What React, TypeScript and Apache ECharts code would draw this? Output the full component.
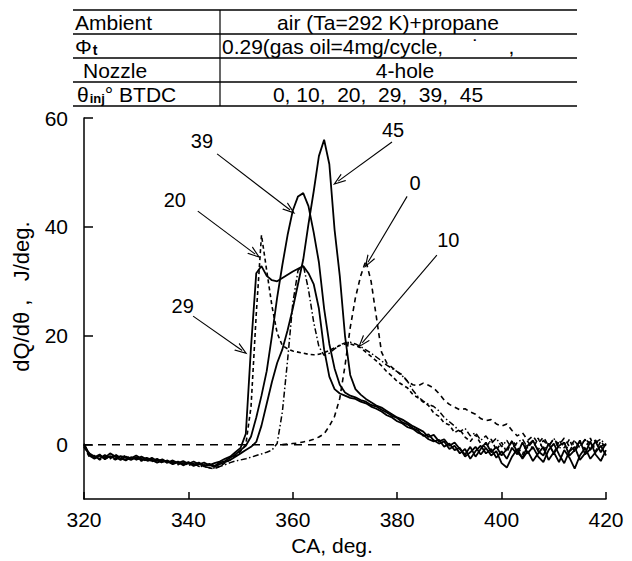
import React, { useEffect, useRef } from "react";
import * as echarts from "echarts";

// ---------- data (CA in deg., dQ/dθ in J/deg.) ----------
const CA_MIN = 320;
const CA_MAX = 420;
const X_TICKS = [320, 340, 360, 380, 400, 420];
const Y_TICKS = [0, 20, 40, 60];

// Injection timings (deg BTDC) – curve labels
const INJ_LABELS = ["0", "10", "20", "29", "39", "45"];

// each curve sampled every 1 deg starting at its start CA
const Q29_START = 320;
const Q29 = [
  0.0, -2.0, -2.6, -2.0, -2.4, -1.6, -2.2, -2.8, -2.2, -2.5,
  -2.0, -2.6, -2.9, -2.4, -3.0, -2.7, -3.3, -2.9, -3.4, -3.0,
  -3.5, -3.1, -3.6, -3.3, -3.8, -3.4, -3.1, -2.6, -2.2, -1.4,
  -0.6, 2.0, 18.0, 31.5, 32.8, 31.0, 30.2, 30.0, 30.6, 31.2,
  31.8, 32.3, 32.8, 31.5, 29.5, 25.0, 17.5, 12.5, 10.2, 9.4,
  9.0, 8.6, 8.4, 7.9, 7.6, 7.0, 6.6, 6.1, 5.4, 5.0,
  4.3, 3.9, 3.2, 2.9, 2.2, 1.8, 1.0, 0.6, 0.9, -0.4,
  0.2, -1.0, -0.6, -2.2, -1.4, -0.4, -1.8, -0.6, -2.0, -1.2,
  -3.4, -4.2, -2.2, -0.8, -2.6, -1.2, -3.0, -1.6, -0.4, -2.8,
  -1.4, -3.2, -1.0, -2.4, -4.4, -2.0, -0.6, -2.6, -1.4, -0.2,
  -2.0,
];

const Q39_START = 320;
const Q39 = [
  -0.3, -1.6, -2.2, -2.6, -1.9, -2.4, -2.0, -2.5, -2.9, -2.3,
  -2.7, -2.2, -2.7, -3.0, -2.6, -3.2, -2.9, -3.5, -3.1, -3.6,
  -3.2, -3.7, -3.3, -3.9, -3.5, -3.9, -3.3, -3.0, -2.4, -1.8,
  -1.0, -0.2, 1.5, 5.0, 9.0, 13.5, 20.0, 27.0, 33.0, 38.5,
  43.0, 45.6, 46.2, 43.8, 39.0, 33.5, 25.0, 18.5, 14.0, 11.0,
  9.6, 9.0, 8.7, 8.2, 7.9, 7.3, 7.0, 6.4, 5.9, 5.3,
  4.9, 4.1, 3.7, 3.0, 2.6, 1.6, 1.9, 0.8, 0.2, 0.6,
  -0.8, -0.2, -1.6, -0.8, -2.6, -1.2, -0.2, -1.6, -0.8, -2.4,
  -1.2, -2.6, -0.6, -1.8, 0.4, -1.6, -0.4, -2.2, -3.2, -1.0,
  0.2, -1.8, -3.4, -1.2, -0.4, -2.8, -1.6, 0.6, -1.8, -3.0,
  -1.0,
];

const Q45_START = 320;
const Q45 = [
  0.2, -1.8, -2.3, -1.8, -2.7, -2.1, -2.6, -2.1, -2.4, -2.8,
  -2.3, -2.8, -2.4, -2.8, -3.3, -2.9, -3.1, -3.6, -3.2, -3.8,
  -3.3, -3.9, -3.5, -4.0, -3.7, -4.1, -3.6, -3.2, -2.8, -2.2,
  -1.6, -1.0, -0.4, 0.5, 3.5, 7.5, 11.5, 15.0, 17.5, 21.0,
  25.0, 29.5, 34.0, 40.5, 46.5, 53.0, 56.0, 51.5, 39.5, 31.0,
  20.0, 12.8, 10.2, 9.2, 8.4, 7.8, 7.2, 6.8, 6.2, 5.6,
  5.0, 4.6, 4.0, 3.4, 2.9, 2.4, 1.4, 1.8, 0.6, 1.0,
  -0.2, 0.4, -0.8, -1.8, -0.4, -2.2, -0.8, 0.4, -1.4, -0.4,
  -2.0, -0.8, 0.6, -1.4, -2.4, -0.2, 0.8, -1.2, -2.0, 0.2,
  -1.6, -0.2, 0.4, -2.0, -1.0, 0.8, -1.8, -0.8, 0.6, -1.4,
  0.2,
];

const Q20_START = 320;
const Q20 = [
  -0.4, -2.2, -2.0, -2.8, -2.2, -2.6, -1.8, -2.4, -2.0, -2.7,
  -2.4, -3.0, -2.5, -3.1, -2.8, -3.4, -3.0, -3.3, -3.7, -3.2,
  -3.8, -3.4, -4.0, -3.7, -4.3, -4.4, -4.0, -3.4, -2.8, -2.0,
  -1.2, 0.0, 7.0, 24.0, 38.5, 32.0, 25.5, 20.5, 18.2, 17.6,
  17.2, 17.0, 16.8, 16.6, 16.5, 16.6, 16.9, 17.3, 17.8, 18.2,
  18.5, 18.5, 18.2, 17.8, 17.0, 16.2, 15.4, 14.5, 13.4, 12.6,
  11.6, 11.0, 10.4, 9.2, 8.6, 7.8, 7.2, 5.8, 5.2, 4.0,
  3.6, 2.2, 2.8, 1.4, 0.6, 1.8, 0.2, -0.6, 1.0, -1.0,
  0.4, -1.4, 0.8, -0.4, -1.8, 0.6, -0.8, 1.2, -1.0, 0.2,
  -1.6, 0.8, -0.6, 1.0, -1.4, 0.4, -0.8, 1.2, -1.2, 0.6,
  -0.6,
];

const Q10_START = 320;
const Q10 = [
  0.0, -1.6, -2.4, -2.1, -2.6, -2.3, -2.8, -2.3, -2.7, -2.3,
  -2.8, -2.5, -3.1, -2.7, -3.2, -2.8, -3.4, -3.1, -3.6, -3.3,
  -3.8, -3.5, -3.9, -4.1, -4.2, -4.3, -4.0, -3.7, -3.3, -3.0,
  -2.8, -2.6, -2.3, -2.0, -1.7, -1.4, -1.0, 0.2, 6.0, 15.5,
  26.0, 32.0, 33.0, 28.5, 22.5, 18.0, 16.4, 16.8, 17.6, 18.3,
  18.7, 18.8, 18.5, 18.0, 17.4, 16.8, 16.1, 15.4, 14.6, 14.0,
  13.4, 12.6, 11.6, 10.0, 8.8, 8.0, 7.4, 7.0, 6.2, 5.0,
  4.2, 3.4, 2.4, 3.0, 1.6, 2.2, 0.8, 1.6, 0.2, 1.2,
  -0.4, 0.8, -0.8, 0.4, 1.0, -0.6, 0.6, -1.0, 0.8, -0.4,
  1.2, -0.8, 0.4, -1.2, 0.6, -0.4, 1.0, -1.0, 0.4, 1.0,
  -0.2,
];

const Q0_START = 358;
const Q0 = [
  0.0, 0.1,
  0.2, 0.3, 0.5, 0.7, 1.0, 1.4, 2.0, 3.4, 5.2, 8.5,
  14.5, 21.5, 27.0, 31.0, 33.8, 30.0, 23.5, 17.0, 15.0, 14.2,
  13.4, 12.8, 11.6, 11.0, 10.8, 11.3, 10.9, 10.4, 9.4, 8.2,
  7.4, 6.9, 6.4, 6.6, 6.0, 5.6, 4.8, 4.4, 4.6, 3.8,
  3.4, 3.8, 2.6, 1.6, 2.2, 0.8, 1.6, 0.2, 1.4, -0.2,
  1.0, 0.0, 1.2, -0.4, 0.8, -0.6, 1.0, 0.2, 0.8, -0.4,
  0.4,
];

// zero reference line
const ZERO_LINE_CA = [320, 381];
const ZERO_LINE_VAL = [0, 0];

// annotation arrows (data coords): label position, arrow start, arrow tip
const ANNOT_TEXT = ["39", "20", "29", "45", "0", "10"];
const ANNOT_LABEL_POS = [
  [342.6, 55.8], [337.4, 44.9], [338.9, 25.4], [379.2, 57.8], [383.4, 48.0], [389.8, 37.5],
];
const ANNOT_FROM = [
  [345.5, 53.4], [341.8, 42.9], [340.9, 23.6], [379.0, 55.6], [381.9, 45.6], [387.6, 34.8],
];
const ANNOT_TO = [
  [359.5, 43.1], [352.8, 35.0], [350.3, 17.3], [368.7, 48.4], [374.4, 33.5], [373.3, 18.7],
];

// header table
const TABLE_RIGHT = [
  "air (Ta=292 K)+propane",
  "0.29(gas oil=4mg/cycle,     ˙     ,",
  "4-hole",
  "0, 10,  20,  29,  39,  45",
];

const FONT = "'Liberation Sans', Arial, Helvetica, sans-serif";

export default function App() {
  const ref = useRef<HTMLDivElement>(null);

  useEffect(() => {
    if (!ref.current) return;
    const chart = echarts.init(ref.current, null, { renderer: "svg" });

    const toData = (start: number, vals: number[]) => vals.map((v, i) => [start + i, v]);

    const curves = [
      { name: INJ_LABELS[0], start: Q0_START, values: Q0, type: [5, 4] as any, width: 1.6 },
      { name: INJ_LABELS[1], start: Q10_START, values: Q10, type: [6, 2.5, 1.5, 2.5] as any, width: 1.5 },
      { name: INJ_LABELS[2], start: Q20_START, values: Q20, type: [4, 3] as any, width: 1.6 },
      { name: INJ_LABELS[3], start: Q29_START, values: Q29, type: "solid" as any, width: 1.8 },
      { name: INJ_LABELS[4], start: Q39_START, values: Q39, type: "solid" as any, width: 1.8 },
      { name: INJ_LABELS[5], start: Q45_START, values: Q45, type: "solid" as any, width: 1.8 },
    ];

    const arrowPath = "path://M0,0 L-5,12 L-3.6,12 L0,3.2 L3.6,12 L5,12 Z";

    const lineSeries: any[] = curves.map((c) => ({
      type: "line",
      name: c.name,
      data: toData(c.start, c.values),
      showSymbol: false,
      symbol: "none",
      silent: true,
      lineStyle: { color: "#000", width: c.width, type: c.type },
      z: 3,
    }));

    const zeroSeries: any = {
      type: "line",
      name: "zero",
      data: ZERO_LINE_CA.map((x, i) => [x, ZERO_LINE_VAL[i]]),
      showSymbol: false,
      symbol: "none",
      silent: true,
      lineStyle: { color: "#000", width: 1.5, type: [8, 6] },
      markLine: {
        silent: true,
        animation: false,
        symbol: ["none", arrowPath],
        symbolSize: [9, 13],
        label: { show: false },
        lineStyle: { color: "#000", width: 1.1, type: "solid" },
        data: ANNOT_FROM.map((f, i) => [{ coord: f }, { coord: ANNOT_TO[i] }]),
      },
      z: 2,
    };

    const labelSeries: any = {
      type: "scatter",
      name: "labels",
      data: ANNOT_LABEL_POS.map((p, i) => [p[0], p[1], ANNOT_TEXT[i]]),
      symbolSize: 1,
      itemStyle: { color: "rgba(0,0,0,0)" },
      silent: true,
      label: {
        show: true,
        position: "inside",
        formatter: (p: any) => p.value[2],
        color: "#000",
        opacity: 1,
        textBorderWidth: 0,
        textBorderColor: "transparent",
        fontSize: 20,
        fontFamily: FONT,
      },
      z: 4,
    };

    // header table graphic
    const rowLines = [10, 34, 58, 82, 106];
    const tLeft = 73;
    const tRight = 577;
    const tDiv = 220;
    const rowMid = [22, 46, 70, 94];
    const graphics: any[] = [];
    rowLines.forEach((y) =>
      graphics.push({
        type: "line",
        shape: { x1: tLeft, y1: y, x2: tRight, y2: y },
        style: { stroke: "#000", lineWidth: 1.5 },
      })
    );
    graphics.push({
      type: "line",
      shape: { x1: tDiv, y1: rowLines[0], x2: tDiv, y2: rowLines[4] },
      style: { stroke: "#000", lineWidth: 1.2 },
    });
    const baseTxt = { fill: "#000", fontSize: 21, fontFamily: FONT, verticalAlign: "middle" };
    graphics.push({ type: "text", x: 75, y: rowMid[0], style: { ...baseTxt, text: "Ambient", align: "left" } });
    graphics.push({
      type: "text", x: 75, y: rowMid[1],
      style: {
        ...baseTxt, align: "left", text: "{a|Φ}{b|t}",
        rich: {
          a: { fontSize: 21, fontFamily: FONT, fill: "#000" },
          b: { fontSize: 14, fontWeight: "bold", fontFamily: FONT, fill: "#000", verticalAlign: "bottom", padding: [6, 0, 0, 1] },
        },
      },
    });
    graphics.push({ type: "text", x: 83, y: rowMid[2], style: { ...baseTxt, text: "Nozzle", align: "left" } });
    graphics.push({
      type: "text", x: 77, y: rowMid[3],
      style: {
        ...baseTxt, align: "left", text: "{a|θ}{b|inj}{a|° BTDC}",
        rich: {
          a: { fontSize: 21, fontFamily: FONT, fill: "#000" },
          b: { fontSize: 13, fontWeight: "bold", fontFamily: FONT, fill: "#000", verticalAlign: "bottom", padding: [6, 0, 0, 1] },
        },
      },
    });
    graphics.push({ type: "text", x: 388, y: rowMid[0], style: { ...baseTxt, text: TABLE_RIGHT[0], align: "center" } });
    graphics.push({ type: "text", x: 222, y: rowMid[1], style: { ...baseTxt, text: TABLE_RIGHT[1], align: "left" } });
    graphics.push({ type: "text", x: 405, y: rowMid[2], style: { ...baseTxt, text: TABLE_RIGHT[2], align: "center" } });
    graphics.push({ type: "text", x: 378, y: rowMid[3], style: { ...baseTxt, text: TABLE_RIGHT[3], align: "center" } });

    const axisColor = "#000";

    chart.setOption({
      animation: false,
      backgroundColor: "#fff",
      textStyle: { fontFamily: FONT },
      grid: { left: 84, right: 26, top: 118, bottom: 55, containLabel: false },
      xAxis: {
        type: "value",
        min: CA_MIN,
        max: CA_MAX,
        interval: 20,
        axisLine: { show: true, onZero: false, lineStyle: { color: axisColor, width: 1.5 } },
        axisTick: { show: true, inside: true, length: 7, customValues: X_TICKS, lineStyle: { color: axisColor, width: 1.5 } },
        axisLabel: { customValues: X_TICKS, color: "#000", fontSize: 21, fontFamily: FONT, margin: 10 },
        splitLine: { show: false },
        name: "CA, deg.",
        nameLocation: "middle",
        nameGap: 31,
        nameTextStyle: { color: "#000", fontSize: 21, fontFamily: FONT, padding: [0, 26, 0, 0] },
      },
      yAxis: {
        type: "value",
        min: -10,
        max: 60,
        interval: 10,
        axisLine: { show: true, onZero: false, lineStyle: { color: axisColor, width: 1.5 } },
        axisTick: { show: true, inside: true, length: 9, customValues: Y_TICKS, lineStyle: { color: axisColor, width: 1.5 } },
        axisLabel: { customValues: Y_TICKS, color: "#000", fontSize: 21, fontFamily: FONT, margin: 16 },
        splitLine: { show: false },
        name: "dQ/dθ ,   J/deg.",
        nameLocation: "middle",
        nameGap: 52,
        nameTextStyle: { color: "#000", fontSize: 22, fontFamily: FONT, padding: [0, 0, 0, 24] },
      },
      graphic: graphics,
      series: [zeroSeries, ...lineSeries, labelSeries],
    });

    return () => chart.dispose();
  }, []);

  return (
    <div
      ref={ref}
      style={{ position: "fixed", left: 0, top: 0, width: 632, height: 561, background: "#fff" }}
    />
  );
}
